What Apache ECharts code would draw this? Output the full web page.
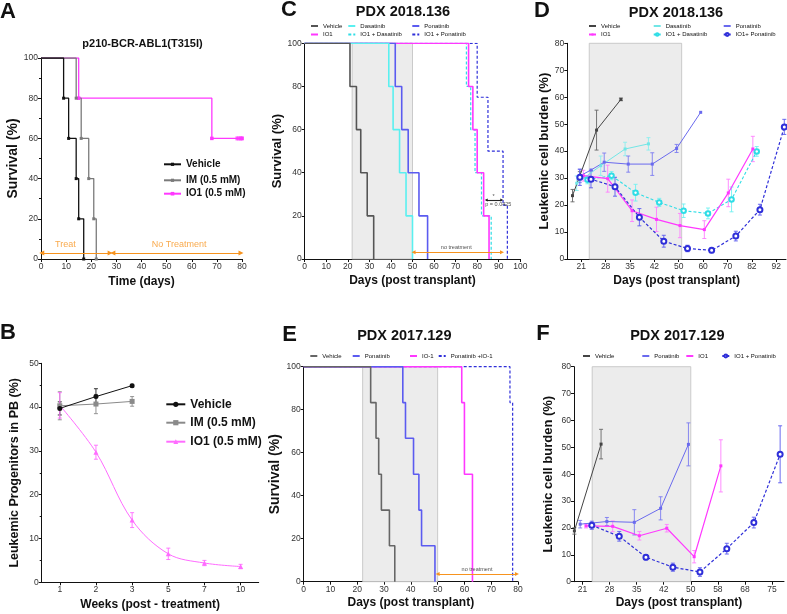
<!DOCTYPE html>
<html>
<head>
<meta charset="utf-8">
<script src="https://cdn.jsdelivr.net/npm/echarts@6/dist/echarts.min.js"></script>
<style>
  html, body { margin: 0; padding: 0; background: #fff; }
  #chart { width: 787px; height: 614px; }
</style>
</head>
<body>
<div id="chart"></div>
<script>
const FONT = "'Liberation Sans', Arial, sans-serif";

// A - p210-BCR-ABL1(T315I) survival
const aVehDay = [0, 9, 11, 14, 15, 17];
const aVehSurv = [100, 80, 60, 40, 20, 0];
const aImDay = [0, 14, 16, 19, 21, 22];
const aImSurv = [100, 80, 60, 40, 20, 0];
const aIo1Day = [0, 15, 68, 80];
const aIo1Surv = [100, 80, 60, 60];
const aIo1Censor = [78, 78.7, 79.4, 80];

// B - leukemic progenitors in PB
const bWeeks = ['1', '2', '3', '5', '7', '10'];
const bVeh = [39.7, 42.4, 44.9];
const bVehErr = [1.5, 1.8, 0.3];
const bIm = [40.3, 40.7, 41.3];
const bImErr = [3.2, 2.2, 1.1];
const bIo1 = [40.4, 29.7, 14.2, 6.5, 4.4, 3.6];
const bIo1Err = [2.9, 1.6, 1.7, 1.3, 0.6, 0.5];

// C - PDX 2018.136 survival
const cSurv = [100, 80, 60, 40, 20, 0];
const cVehDay = [0, 21, 24, 26, 29, 32];
const cDasDay = [0, 39, 41, 44, 47, 50];
const cPonDay = [0, 42, 45, 48, 53, 57];
const cIo1Day = [0, 76, 78, 80, 83, 85.5];
const cIoDasDay = [0, 75, 77, 79, 82, 86.5];
const cIoPonDay = [0, 80, 85, 92, 94];
const cIoPonSurv = [100, 75, 50, 25, 0];

// D - PDX 2018.136 leukemic burden
const dTicks = [21, 28, 35, 42, 50, 60, 70, 82, 92];
const dVehDay = [18.5, 20.6, 25.4, 32.4];
const dVehVal = [23.5, 30.9, 47.8, 59.2];
const dVehErr = [2.3, 1.5, 7.4, 0.5];
const dIo1Day = [21.6, 28.6, 35.6, 42.7, 50.5, 60.5, 70.4, 82.4];
const dIo1Val = [30.9, 29.8, 17.9, 14.7, 12.4, 10.9, 24.5, 40.8];
const dIo1Err = [2, 5, 4, 4.5, 4.5, 3.3, 5.1, 4.7];
const dDasDay = [19.7, 26.6, 33.6, 40.3];
const dDasVal = [28.1, 34.6, 40.8, 42.7];
const dDasErr = [2.7, 3.6, 2.5, 2.3];
const dIoDasDay = [22.8, 29.7, 36.6, 43.6, 52, 62, 72, 84];
const dIoDasVal = [29.4, 30.9, 24.6, 21, 17.9, 16.9, 22.1, 39.9];
const dIoDasErr = [1.5, 1.5, 3.1, 1.5, 2.5, 2, 4.6, 1.8];
const dPonDay = [20.6, 23.8, 27.6, 34.5, 41.4, 49.3, 59];
const dPonVal = [30.8, 33, 35.9, 35.2, 35.2, 41, 54.4];
const dPonErr = [2.5, 0, 3.4, 3, 4.2, 1.5, 0];
const dIoPonDay = [20.6, 23.8, 30.7, 37.7, 45.1, 53.6, 63.5, 74.1, 85.3, 95.3];
const dIoPonVal = [30.3, 29.6, 26.8, 15.5, 6.6, 3.9, 3.2, 8.5, 18.3, 49];
const dIoPonErr = [3, 3.2, 3.5, 3.2, 2.2, 1.2, 0.9, 1.8, 2, 2.8];

// E - PDX 2017.129 survival
const eSurv6 = [100, 83.3, 66.7, 50, 33.3, 16.7, 0];
const eVehDay = [0, 25, 27, 28, 29, 32, 34];
const ePonDay = [0, 37, 38, 41, 43, 44, 49];
const eIo1Day = [0, 59, 60, 63];
const eIo1Surv = [100, 83.3, 50, 0];
const eComboDay = [0, 77, 78];
const eComboSurv = [100, 83.3, 0];

// F - PDX 2017.129 leukemic burden
const fTicks = [21, 28, 35, 42, 50, 58, 68, 75];
const fVehDay = [18.9, 25.8];
const fVehVal = [18.9, 51.2];
const fVehErr = [1.2, 5.5];
const fPonDay = [20.4, 27.3, 34.4, 41.2, 49.3];
const fPonVal = [21.4, 22.4, 22.1, 27.3, 51.1];
const fPonErr = [1.4, 1.5, 4.7, 4.3, 8];
const fIo1Day = [21.9, 28.8, 35.7, 42.9, 51, 59.1];
const fIo1Val = [20.8, 20.6, 17.1, 19.9, 9.3, 43.1];
const fIo1Err = [0.8, 2, 1.6, 1.4, 2.3, 9.7];
const fIoPonDay = [23.4, 30.5, 37.4, 44.7, 52.7, 61.3, 70.3, 77.1];
const fIoPonVal = [21, 16.9, 9.1, 5.4, 3.6, 12.3, 22, 47.4];
const fIoPonErr = [1.5, 1.8, 1, 1.5, 1.6, 2, 2, 10.6];

const ORANGE = '#f7931e';

// the D and F day axes have evenly spaced ticks with uneven day steps
function toIdx(ticks, d) {
  const n = ticks.length;
  if (d <= ticks[1]) return (d - ticks[0]) / (ticks[1] - ticks[0]);
  for (let i = 1; i < n - 1; i++) {
    if (d <= ticks[i + 1]) return i + (d - ticks[i]) / (ticks[i + 1] - ticks[i]);
  }
  return n - 2 + (d - ticks[n - 2]) / (ticks[n - 1] - ticks[n - 2]);
}

function mkAxis(gi, o) {
  return {
    gridIndex: gi,
    type: o.type || 'value',
    min: o.min, max: o.max, interval: o.interval,
    data: o.data, boundaryGap: o.boundaryGap,
    name: o.name, nameGap: o.nameGap, nameLocation: 'middle',
    nameTextStyle: { fontFamily: FONT, fontWeight: 'bold', fontSize: o.nameSize, color: '#111' },
    axisLine: { show: true, onZero: false, lineStyle: { color: '#111', width: 1 } },
    axisTick: Object.assign({ show: true, length: 3, lineStyle: { color: '#111', width: 1 } }, o.tick || {}),
    minorTick: o.minor ? { show: true, splitNumber: 2, length: 2, lineStyle: { color: '#111' } } : { show: false },
    axisLabel: Object.assign({ fontSize: 8.5, color: '#333', fontFamily: FONT, margin: 3 }, o.label || {}),
    splitLine: { show: false }
  };
}

// Kaplan-Meier step curve
function km(name, gi, days, surv, color, o) {
  o = o || {};
  const marked = !!o.symbol;
  return {
    name: name, type: 'line', xAxisIndex: gi, yAxisIndex: gi, step: 'end',
    symbol: marked ? o.symbol : 'none', symbolSize: o.symbolSize || 3,
    data: days.map((d, i) => (marked && i === 0) ? { value: [d, surv[i]], symbol: 'none' } : [d, surv[i]]),
    lineStyle: { color: color, width: o.width || 1.3, type: o.dashed ? [3, 2] : 'solid' },
    itemStyle: { color: color },
    z: 3
  };
}

function errSeries(gi, pts, color) {
  return {
    type: 'custom', xAxisIndex: gi, yAxisIndex: gi, z: 2,
    itemStyle: { color: color },
    data: pts,
    renderItem: function (params, api) {
      const x = api.value(0), lo = api.value(1), hi = api.value(2);
      const p1 = api.coord([x, hi]), p2 = api.coord([x, lo]);
      const w = 2, st = { stroke: color, lineWidth: 0.9 };
      return {
        type: 'group', children: [
          { type: 'line', shape: { x1: p1[0], y1: p1[1], x2: p2[0], y2: p2[1] }, style: st },
          { type: 'line', shape: { x1: p1[0] - w, y1: p1[1], x2: p1[0] + w, y2: p1[1] }, style: st },
          { type: 'line', shape: { x1: p2[0] - w, y1: p2[1], x2: p2[0] + w, y2: p2[1] }, style: st }
        ]
      };
    }
  };
}

function burden(name, gi, ticks, days, vals, errs, color, errColor, o) {
  const xs = days.map(d => toIdx(ticks, d));
  const line = {
    name: name, type: 'line', xAxisIndex: gi, yAxisIndex: gi, z: 3,
    symbol: o.symbol || 'rect', symbolSize: o.symbolSize || 3,
    data: xs.map((x, i) => [x, vals[i]]),
    lineStyle: { color: color, width: o.width || 1, type: o.dashed ? [3, 2] : 'solid' },
    itemStyle: { color: color, borderColor: color, borderWidth: o.symbol === 'emptyCircle' ? 1 : 0 }
  };
  const pts = [];
  xs.forEach((x, i) => { if (errs[i] > 0) pts.push([x, vals[i] - errs[i], vals[i] + errs[i]]); });
  return [errSeries(gi, pts, errColor), line];
}

function shade(gi, x1, x2, ymax) {
  return {
    type: 'line', xAxisIndex: gi, yAxisIndex: gi, data: [], z: 1, silent: true,
    markArea: {
      silent: true,
      itemStyle: { color: '#ececec', borderColor: '#bfbfbf', borderWidth: 0.8 },
      data: [[{ xAxis: x1, yAxis: 0 }, { xAxis: x2, yAxis: ymax }]]
    }
  };
}

// annotation texts in data coords, optional arrows
function notes(gi, texts, size, color, arrows, arrowColor, arrowSize) {
  const s = {
    type: 'scatter', xAxisIndex: gi, yAxisIndex: gi, z: 5, silent: true,
    symbolSize: 0,
    data: texts,
    label: {
      show: true, position: 'inside', formatter: p => p.data[2],
      fontSize: size, color: color, fontFamily: FONT
    }
  };
  if (arrows) {
    s.markLine = {
      silent: true, symbol: ['triangle', 'triangle'], symbolSize: arrowSize || [5, 5],
      lineStyle: { color: arrowColor || color, width: 1.1, type: 'solid' },
      label: { show: false },
      data: arrows.map(a => [{ coord: [a[0], a[2]] }, { coord: [a[1], a[2]] }])
    };
  }
  return s;
}

function leg(name, left, cy, size, bold, iw, ih) {
  const h = Math.max(ih, size);
  return {
    data: [name], left: left, top: cy - h / 2, padding: 0,
    itemWidth: iw, itemHeight: ih, selectedMode: false,
    formatter: n => n.split('#')[0],
    textStyle: { fontSize: size, fontWeight: bold ? 'bold' : 'normal', fontFamily: FONT, color: '#111', lineHeight: size }
  };
}

function txt(text, x, y, size, bold) {
  return {
    type: 'text', x: x, y: y, silent: true,
    style: {
      text: text, font: (bold ? 'bold ' : '') + size + 'px ' + FONT, fill: '#111',
      align: 'center', verticalAlign: 'middle', textAlign: 'center', textVerticalAlign: 'middle'
    }
  };
}

const dMin = toIdx(dTicks, 17), dMax = toIdx(dTicks, 96);
const fMin = toIdx(fTicks, 18.8), fMax = toIdx(fTicks, 78.1);
const idxLabel = ticks => ({ customValues: ticks.map((t, i) => i), formatter: v => String(ticks[Math.round(v)]) });
const idxTick = ticks => ({ customValues: ticks.map((t, i) => i) });

const CY = '#5af0f0', CYD = '#2fdde6', BL = '#5b5bf0', BLD = '#2f2fd9', PK = '#ff38ff';

const series = [
  // A
  km('IO1 (0.5 mM)#A', 0, aIo1Day, aIo1Surv, PK, { symbol: 'rect', symbolSize: 3.5 }),
  { type: 'scatter', xAxisIndex: 0, yAxisIndex: 0, symbol: 'rect', symbolSize: [3, 4], z: 3,
    itemStyle: { color: PK }, data: aIo1Censor.map(d => [d, 60]) },
  km('IM (0.5 mM)#A', 0, aImDay, aImSurv, '#7a7a7a', { symbol: 'rect', symbolSize: 3 }),
  km('Vehicle#A', 0, aVehDay, aVehSurv, '#111', { symbol: 'rect', symbolSize: 3 }),
  notes(0, [[9.7, 7.2, 'Treat'], [55, 7.2, 'No Treatment']], 9, ORANGE,
    [[0.3, 27.5, 3], [28.6, 79.6, 3]], ORANGE, [5, 5]),

  // B
  errSeries(1, bVeh.map((v, i) => [i, v - bVehErr[i], v + bVehErr[i]]), '#222'),
  errSeries(1, bIm.map((v, i) => [i, v - bImErr[i], v + bImErr[i]]), '#8a8a8a'),
  errSeries(1, bIo1.map((v, i) => [i, v - bIo1Err[i], v + bIo1Err[i]]), '#ff6cff'),
  { name: 'IO1 (0.5 mM)#B', type: 'line', xAxisIndex: 1, yAxisIndex: 1, z: 3, smooth: 0.35,
    symbol: 'triangle', symbolSize: 5, data: bIo1,
    lineStyle: { color: '#ff6cff', width: 1 }, itemStyle: { color: '#ff6cff' } },
  { name: 'IM (0.5 mM)#B', type: 'line', xAxisIndex: 1, yAxisIndex: 1, z: 3,
    symbol: 'rect', symbolSize: 5, data: bIm,
    lineStyle: { color: '#8a8a8a', width: 1 }, itemStyle: { color: '#8a8a8a' } },
  { name: 'Vehicle#B', type: 'line', xAxisIndex: 1, yAxisIndex: 1, z: 3,
    symbol: 'circle', symbolSize: 5, data: bVeh,
    lineStyle: { color: '#111', width: 1 }, itemStyle: { color: '#111' } },

  // C
  shade(2, 22, 50, 100),
  km('IO1 + Ponatinib#C', 2, cIoPonDay, cIoPonSurv, BLD, { dashed: true, width: 1.2 }),
  km('IO1 + Dasatinib#C', 2, cIoDasDay, cSurv, CYD, { dashed: true, width: 1.2 }),
  km('IO1#C', 2, cIo1Day, cSurv, PK, { width: 1.6 }),
  km('Ponatinib#C', 2, cPonDay, cSurv, BL, { width: 1.6 }),
  km('Dasatinib#C', 2, cDasDay, cSurv, CY, { width: 1.6 }),
  km('Vehicle#C', 2, cVehDay, cSurv, '#555', { width: 1.6 }),
  notes(2, [[70.3, 5.4, 'no treatment']], 5.5, '#222', [[50.5, 91.5, 3.1]], ORANGE, [4, 4]),
  notes(2, [[87.6, 28.8, '*'], [89.8, 25.4, 'p = 0.0425']], 5.5, '#222', [[84.2, 91.4, 27.4]], '#222', [3, 3]),

  // D
  shade(3, toIdx(dTicks, 23.3), toIdx(dTicks, 51.2), 80),
  ...burden('Vehicle#D', 3, dTicks, dVehDay, dVehVal, dVehErr, '#444', '#666', {}),
  ...burden('Dasatinib#D', 3, dTicks, dDasDay, dDasVal, dDasErr, '#72e6e6', '#8aeeee', {}),
  ...burden('Ponatinib#D', 3, dTicks, dPonDay, dPonVal, dPonErr, '#6a6aee', '#7c7cf0', {}),
  ...burden('IO1 + Dasatinib#D', 3, dTicks, dIoDasDay, dIoDasVal, dIoDasErr, CYD, '#6ff0f0',
    { symbol: 'emptyCircle', symbolSize: 4.5, dashed: true, width: 1.1 }),
  ...burden('IO1#D', 3, dTicks, dIo1Day, dIo1Val, dIo1Err, PK, '#ff80ff', { width: 1.2 }),
  ...burden('IO1+ Ponatinib#D', 3, dTicks, dIoPonDay, dIoPonVal, dIoPonErr, BLD, '#5a5aee',
    { symbol: 'emptyCircle', symbolSize: 5, dashed: true, width: 1.2 }),

  // E
  shade(4, 22, 50, 100),
  km('Ponatinib +IO-1#E', 4, eComboDay, eComboSurv, BLD, { dashed: true, width: 1.2 }),
  km('IO-1#E', 4, eIo1Day, eIo1Surv, PK, { width: 1.6 }),
  km('Ponatinib#E', 4, ePonDay, eSurv6, BL, { width: 1.6 }),
  km('Vehicle#E', 4, eVehDay, eSurv6, '#666', { width: 1.6 }),
  notes(4, [[64.7, 5.9, 'no treatment']], 5.5, '#222', [[50, 79.6, 3.6]], ORANGE, [4, 4]),

  // F
  shade(5, toIdx(fTicks, 23.5), toIdx(fTicks, 50), 80),
  ...burden('Vehicle#F', 5, fTicks, fVehDay, fVehVal, fVehErr, '#444', '#666', {}),
  ...burden('Ponatinib#F', 5, fTicks, fPonDay, fPonVal, fPonErr, '#6a6aee', '#7c7cf0', {}),
  ...burden('IO1#F', 5, fTicks, fIo1Day, fIo1Val, fIo1Err, PK, '#ff80ff', { width: 1.2 }),
  ...burden('IO1 + Ponatinib#F', 5, fTicks, fIoPonDay, fIoPonVal, fIoPonErr, BLD, '#5a5aee',
    { symbol: 'emptyCircle', symbolSize: 5, dashed: true, width: 1.2 })
];

const option = {
  animation: false,
  backgroundColor: '#fff',
  grid: [
    { left: 41, top: 58, width: 201, height: 201 },
    { left: 41.7, top: 363.3, width: 217, height: 219 },
    { left: 304.7, top: 43.3, width: 215.6, height: 215.7 },
    { left: 567.3, top: 43.3, width: 218.7, height: 215.7 },
    { left: 303.7, top: 366.7, width: 214.3, height: 215 },
    { left: 574, top: 366.7, width: 210, height: 215 }
  ],
  xAxis: [
    mkAxis(0, { min: 0, max: 80, interval: 10, name: 'Time (days)', nameGap: 17, nameSize: 12 }),
    mkAxis(1, { type: 'category', data: bWeeks, boundaryGap: true, name: 'Weeks (post - treatment)',
      nameGap: 16, nameSize: 12, tick: { alignWithLabel: true } }),
    mkAxis(2, { min: 0, max: 100, interval: 10, name: 'Days (post transplant)', nameGap: 16, nameSize: 12 }),
    mkAxis(3, { min: dMin, max: dMax, name: 'Days (post transplant)', nameGap: 16, nameSize: 12,
      tick: idxTick(dTicks), label: idxLabel(dTicks) }),
    mkAxis(4, { min: 0, max: 80, interval: 10, name: 'Days (post transplant)', nameGap: 15, nameSize: 12 }),
    mkAxis(5, { min: fMin, max: fMax, name: 'Days (post transplant)', nameGap: 15, nameSize: 12,
      tick: idxTick(fTicks), label: idxLabel(fTicks) })
  ],
  yAxis: [
    mkAxis(0, { min: 0, max: 100, interval: 20, minor: true, name: 'Survival (%)', nameGap: 18, nameSize: 14 }),
    mkAxis(1, { min: 0, max: 50, interval: 10, minor: true, name: 'Leukemic Progenitors in PB (%)', nameGap: 21, nameSize: 12.5 }),
    mkAxis(2, { min: 0, max: 100, interval: 20, name: 'Survival (%)', nameGap: 15, nameSize: 13 }),
    mkAxis(3, { min: 0, max: 80, interval: 10, name: 'Leukemic cell burden (%)', nameGap: 12, nameSize: 13 }),
    mkAxis(4, { min: 0, max: 100, interval: 20, name: 'Survival (%)', nameGap: 14, nameSize: 14 }),
    mkAxis(5, { min: 0, max: 80, interval: 10, name: 'Leukemic cell burden (%)', nameGap: 19, nameSize: 13 })
  ],
  legend: [
    leg('Vehicle#A', 163, 164.3, 10, true, 17, 4),
    leg('IM (0.5 mM)#A', 163, 180.3, 10, true, 17, 4),
    leg('IO1 (0.5 mM)#A', 163, 193.7, 10, true, 17, 4.5),
    leg('Vehicle#B', 165.3, 404.3, 12, true, 19, 6.5),
    leg('IM (0.5 mM)#B', 165.3, 422.7, 12, true, 19, 6.5),
    leg('IO1 (0.5 mM)#B', 165.3, 441.7, 12, true, 19, 6),
    leg('Vehicle#C', 310, 26, 6, false, 7, 0.3),
    leg('IO1#C', 310, 34.5, 6, false, 7, 0.3),
    leg('Dasatinib#C', 347.3, 26, 6, false, 7, 0.3),
    leg('IO1 + Dasatinib#C', 347.3, 34.5, 6, false, 7, 0.3),
    leg('Ponatinib#C', 411.3, 26, 6, false, 7, 0.3),
    leg('IO1 + Ponatinib#C', 411.3, 34.5, 6, false, 7, 0.3),
    leg('Vehicle#D', 588, 26, 6, false, 7, 2.5),
    leg('IO1#D', 588, 34.5, 6, false, 7, 2.5),
    leg('Dasatinib#D', 652.7, 26, 6, false, 7, 2.5),
    leg('IO1 + Dasatinib#D', 652.7, 34.5, 6, false, 7, 3),
    leg('Ponatinib#D', 722.7, 26, 6, false, 7, 2.5),
    leg('IO1+ Ponatinib#D', 722.7, 34.5, 6, false, 7, 3.5),
    leg('Vehicle#E', 309.3, 356, 6, false, 7, 0.3),
    leg('Ponatinib#E', 351.7, 356, 6, false, 7, 0.3),
    leg('IO-1#E', 409, 356, 6, false, 7, 0.3),
    leg('Ponatinib +IO-1#E', 437.7, 356, 6, false, 7, 0.3),
    leg('Vehicle#F', 582, 356, 6, false, 7, 2.5),
    leg('Ponatinib#F', 641.3, 356, 6, false, 7, 2.5),
    leg('IO1#F', 685.3, 356, 6, false, 7, 2.5),
    leg('IO1 + Ponatinib#F', 721.3, 356, 6, false, 7, 3.5)
  ],
  graphic: [
    txt('A', 8, 12, 22, true),
    txt('B', 8, 333, 22, true),
    txt('C', 289, 10, 22, true),
    txt('D', 542, 11, 22, true),
    txt('E', 289.5, 335, 22, true),
    txt('F', 543, 334, 22, true),
    txt('p210-BCR-ABL1(T315I)', 142.5, 43.5, 11, true),
    txt('PDX 2018.136', 403, 12, 14.5, true),
    txt('PDX 2018.136', 676, 12.5, 14.5, true),
    txt('PDX 2017.129', 404.3, 336, 14.5, true),
    txt('PDX 2017.129', 677.3, 336, 14.5, true)
  ],
  series: series
};

const chart = echarts.init(document.getElementById('chart'));
chart.setOption(option);
</script>
</body>
</html>
